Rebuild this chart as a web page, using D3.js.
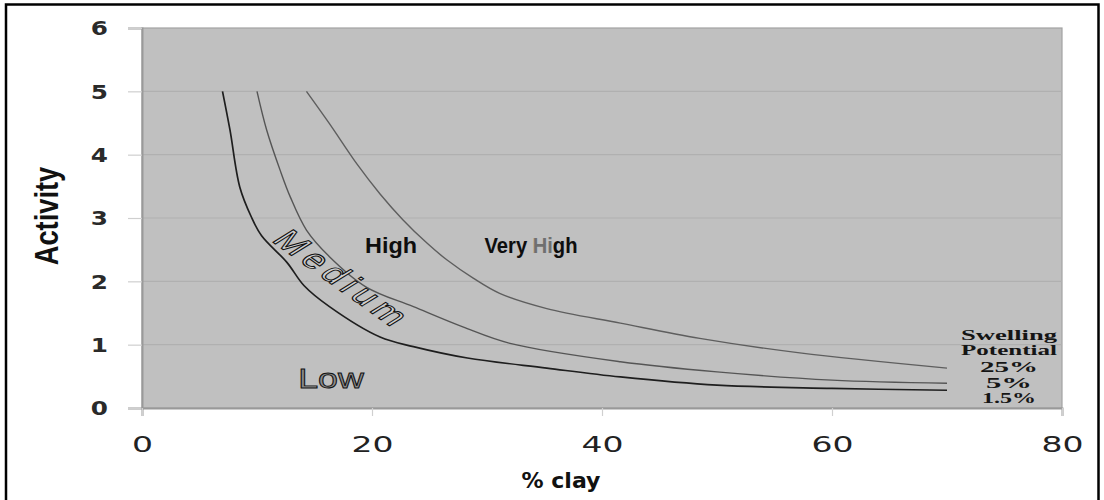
<!DOCTYPE html>
<html><head><meta charset="utf-8">
<script src="https://cdn.jsdelivr.net/npm/d3@7"></script>
<style>body{margin:0;background:#fff}svg{display:block}</style>
</head><body>
<svg id="c" width="1104" height="500"></svg>
<script>
// ---- data ----
const xTicks = [0, 20, 40, 60, 80];
const yTicks = [0, 1, 2, 3, 4, 5, 6];
const clay15 = [7.0, 7.65, 8.5, 9.5, 10.4, 12.6, 14.1, 16.3, 20.7, 23.6, 28.3, 35.2, 41.6, 50, 60, 70];
const act15  = [5.0, 4.39, 3.49, 3.02, 2.72, 2.30, 1.93, 1.60, 1.12, 0.97, 0.79, 0.63, 0.49, 0.36, 0.31, 0.28];
const clay5  = [10.0, 10.84, 12.0, 12.9, 14.3, 16.3, 19.5, 23.6, 27.9, 32.0, 41.6, 50, 60, 70];
const act5   = [5.0, 4.39, 3.76, 3.33, 2.81, 2.39, 1.91, 1.60, 1.28, 1.02, 0.73, 0.57, 0.44, 0.39];
const clay25 = [14.3, 16.3, 18.7, 20.7, 22.7, 24.8, 26.5, 28.8, 31.1, 35.2, 41.6, 48.5, 57.2, 70];
const act25  = [5.0, 4.49, 3.85, 3.38, 2.97, 2.60, 2.34, 2.05, 1.81, 1.57, 1.34, 1.10, 0.87, 0.63];
const seriesNames = ["25%", "5%", "1.5%"];
const zoneLabels = ["Low", "Medium", "High", "Very High"];
const legendTitle = ["Swelling", "Potential"];

// ---- layout ----
const svg = d3.select("#c");
const X0 = 142, X1 = 1062, Y0 = 408, Y1 = 28;
const x = d3.scaleLinear().domain([0, 80]).range([X0, X1]);
const y = d3.scaleLinear().domain([0, 6]).range([Y0, Y1]);

const defs = svg.append("defs");
const gr = defs.append("linearGradient").attr("id", "vhg").attr("x1", 0).attr("x2", 1).attr("y1", 0).attr("y2", 0);
[[0, "#0e0e0e"], [0.53, "#0e0e0e"], [0.53, "#6f6f6f"], [0.73, "#6f6f6f"], [0.73, "#0e0e0e"], [1, "#0e0e0e"]]
  .forEach(s => gr.append("stop").attr("offset", s[0]).attr("stop-color", s[1]));

// outer frame
svg.append("rect").attr("x", 6).attr("y", 4.5).attr("width", 1092.5).attr("height", 520)
  .attr("fill", "none").attr("stroke", "#000").attr("stroke-width", 2.5);

// plot background
svg.append("rect").attr("x", X0).attr("y", Y1).attr("width", X1 - X0).attr("height", Y0 - Y1)
  .attr("fill", "#c0c0c0").attr("stroke", "#a2a2a2").attr("stroke-width", 1.2);

// gridlines
svg.append("g").selectAll("line").data(yTicks.filter(d => d > 0 && d < 6)).join("line")
  .attr("x1", X0).attr("x2", X1).attr("y1", d => y(d)).attr("y2", d => y(d))
  .attr("stroke", "#b0b0b0").attr("stroke-width", 1.2);

// y axis
const ya = svg.append("g").attr("transform", `translate(${X0},0)`)
  .call(d3.axisLeft(y).tickValues(yTicks).tickSize(14).tickPadding(20).tickFormat(d3.format("d")));
ya.select(".domain").attr("stroke", "#999").attr("stroke-width", 2);
ya.selectAll(".tick line").attr("stroke", "#cfcfcf").attr("stroke-width", 1.2);
ya.selectAll(".tick text")
  .attr("font-family", "DejaVu Sans").attr("font-weight", "bold").attr("font-size", 19)
  .attr("fill", "#2a2a2a").attr("x", -34 / 1.3).attr("transform", "scale(1.3,1)").attr("dy", "0.36em");

// x axis
const xa = svg.append("g").attr("transform", `translate(0,${Y0})`)
  .call(d3.axisBottom(x).tickValues(xTicks).tickSize(8).tickFormat(d3.format("d")));
xa.select(".domain").attr("stroke", "#999").attr("stroke-width", 2);
xa.selectAll(".tick line").attr("stroke", "#d0d0d0").attr("stroke-width", 1.2);
xa.selectAll(".tick text")
  .attr("font-family", "DejaVu Sans").attr("font-size", 22).attr("fill", "#222")
  .attr("y", 44).attr("dy", 0).attr("transform", "scale(1.5,1)");

// curves
const line = d3.line().x(d => x(d[0])).y(d => y(d[1])).curve(d3.curveCatmullRom.alpha(0.5));
const curves = [
  {xs: clay25, ys: act25, color: "#5e5e5e", w: 1.4},
  {xs: clay5, ys: act5, color: "#555", w: 1.4},
  {xs: clay15, ys: act15, color: "#1e1e1e", w: 1.7}
];
curves.forEach(c => {
  svg.append("path").datum(c.xs.map((v, i) => [v, c.ys[i]]))
    .attr("d", line).attr("fill", "none").attr("stroke", c.color).attr("stroke-width", c.w);
});

// stretched text helper
function stext(px, py, str, o) {
  const g = svg.append("g").attr("transform", `translate(${px},${py}) ${o.extra || ""} scale(${o.sx || 1},${o.sy || 1})`);
  const t = g.append("text").attr("text-anchor", o.anchor || "middle")
    .attr("font-family", o.font || "Liberation Sans").attr("font-size", o.size)
    .attr("font-weight", o.weight || "normal").attr("fill", o.fill || "#111");
  if (o.stroke) t.attr("stroke", o.stroke).attr("stroke-width", o.sw || 0.8);
  if (o.len) t.attr("textLength", o.len).attr("lengthAdjust", o.adj || "spacingAndGlyphs");
  t.text(str);
  return t;
}

// axis titles
stext(561, 488, "% clay", {size: 21, weight: "bold", font: "DejaVu Sans", sx: 1.05, fill: "#111"});
stext(58, 216, "Activity", {size: 26, weight: "bold", extra: "rotate(-90)", sy: 1.25, sx: 1.05, fill: "#111"});

// zone labels
stext(331, 388, zoneLabels[0], {size: 28, sx: 1.28, fill: "#8a8a8a", stroke: "#111", sw: 0.9});
stext(391, 253, zoneLabels[2], {size: 22, weight: "bold", len: 52, fill: "#0e0e0e"});
stext(531, 253, zoneLabels[3], {size: 22, weight: "bold", len: 93, fill: "url(#vhg)"});
stext(331, 284, zoneLabels[1], {size: 27, extra: "scale(1.5,1) rotate(47)", len: 118, adj: "spacing",
  fill: "#d0d0d0", stroke: "#111", sw: 0.9});

// legend text
const lg = [[legendTitle[0], 340, 96], [legendTitle[1], 355, 96], [seriesNames[0], 372, 58], [seriesNames[1], 388, 46], [seriesNames[2], 403, 54]];
lg.forEach(d => stext(1009, d[1], d[0], {size: 15, weight: "bold", font: "Liberation Serif", len: d[2], fill: "#151515"}));
</script>
</body></html>
